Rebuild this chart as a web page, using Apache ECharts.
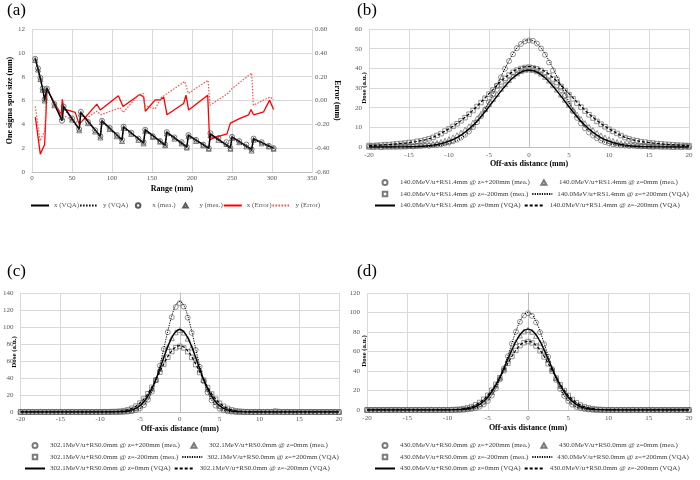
<!DOCTYPE html>
<html><head><meta charset="utf-8">
<script src="https://cdn.jsdelivr.net/npm/echarts@6/dist/echarts.min.js"></script>
<style>html,body{margin:0;padding:0;background:#fff}#c{width:700px;height:480px}</style>
</head><body><div id="c"></div>
<script>
// ---------- Panel (a) data ----------
const rangeVqa = [4,7.5,10.5,13.3,15.8,18.7,37.5,39.5,59,61,85.5,87.5,112.5,114.5,139.5,141.5,166.5,168.5,193.5,195.5,221,223,248,250,274.5,277,302];
const xVqa = [9.55,8.65,7.85,7.0,6.05,7.05,4.3,5.5,3.6,5.0,3.0,4.3,2.7,3.8,2.45,3.55,2.25,3.35,2.1,3.1,2.0,3.2,2.05,2.95,1.9,2.8,2.0];
const yVqa = [9.45,8.55,7.75,6.9,5.95,6.95,4.45,5.4,3.5,4.9,2.9,4.2,2.6,3.7,2.4,3.45,2.2,3.25,2.05,3.0,1.95,3.1,1.95,2.85,1.8,2.7,1.95];
const rangeMea = [4,7.5,10.5,13.3,15.8,18.7,28,37.5,39.5,50,59,61,70,79,85.5,87.5,97,106,112.5,114.5,124,133,139.5,141.5,151,160,166.5,168.5,178,187,193.5,195.5,205,214,221,223,233,243,248,250,259,268,274.5,277,287,296,302];
const xMea = [9.5,8.7,7.9,7.0,6.1,7.0,5.7,4.3,5.5,4.5,3.6,5.05,4.2,3.5,3.0,4.3,3.7,3.1,2.7,3.8,3.3,2.8,2.5,3.55,3.0,2.6,2.3,3.35,2.9,2.5,2.1,3.1,2.7,2.3,2.0,3.25,2.85,2.5,2.0,2.95,2.6,2.3,1.9,2.8,2.5,2.2,2.0];
const yMea = [9.4,8.6,7.8,6.9,6.0,6.9,5.6,4.6,5.4,4.4,3.5,4.9,4.1,3.4,2.9,4.2,3.6,3.0,2.6,3.7,3.2,2.7,2.4,3.45,2.95,2.55,2.25,3.25,2.8,2.4,2.05,3.0,2.6,2.25,1.95,3.1,2.7,2.35,1.95,2.85,2.5,2.15,1.8,2.7,2.4,2.15,1.95];
const rangeErrX = [4.2,10.4,15.8,18.75,36.6,37.9,39.6,54,59,81,85.4,108,113.75,134.6,139.6,141.7,154,160,164.6,168.75,189.6,192.5,195.8,219.6,222,229,243.75,247.9,260,270.8,273.75,277,289.6,297,302];
const errX = [-0.14,-0.45,-0.37,0.09,-0.12,0.01,-0.07,-0.10,-0.20,-0.03,-0.08,0.04,-0.05,0.05,0.03,-0.09,0.005,0.005,0.03,-0.12,-0.025,0.045,-0.08,0.045,-0.33,-0.31,-0.28,-0.19,-0.15,-0.12,-0.076,-0.12,-0.095,0.003,-0.076];
const rangeErrY = [4.2,10,16,18.5,37,59,81,86,110,114,133,139,141,154,162,165,191,195.4,220,222.5,245,250,274.6,276.7,297.5,301.7];
const errY = [-0.05,-0.34,-0.25,0.09,-0.12,-0.19,-0.09,-0.12,-0.06,-0.10,0.045,0.06,-0.04,-0.07,0.03,0.04,0.16,0.06,0.17,-0.04,0.06,0.10,0.23,-0.04,0.03,0.005];

// ---------- Profiles: shared off-axis positions (mm) ----------
const offAxis = [-20,-19.5,-19,-18.5,-18,-17.5,-17,-16.5,-16,-15.5,-15,-14.5,-14,-13.5,-13,-12.5,-12,-11.5,-11,-10.5,
-10,-9.5,-9,-8.5,-8,-7.5,-7,-6.5,-6,-5.5,-5,-4.5,-4,-3.5,-3,-2.5,-2,-1.5,-1,-0.5,0,
0.5,1,1.5,2,2.5,3,3.5,4,4.5,5,5.5,6,6.5,7,7.5,8,8.5,9,9.5,10,
10.5,11,11.5,12,12.5,13,13.5,14,14.5,15,15.5,16,16.5,17,17.5,18,18.5,19,19.5,20];

// ---------- Panel (b) 140.0MeV/u ----------
const bMeaP200 = [0.3,0.2,0.4,0.1,0.3,0.2,0.4,0.3,0.2,0.4, 0.5,0.3,0.6,0.5,0.7,0.6,0.9,1.1,1.4,1.8, 2.3,2.9,3.7,4.8,6.2,7.9,10.1,12.6,15.6,19.0, 22.8,26.9,31.2,35.5,39.8,43.7,47.2,50.3,52.4,53.7,
54.2,
54.0,52.6,50.1,46.9,43.0,38.9,34.6,30.2,26.0,21.9, 18.2,14.8,12.0,9.5,7.4,5.8,4.4,3.3,2.5,1.9, 1.4,1.1,0.8,0.7,0.5,0.6,0.4,0.3,0.5,0.3, 0.2,0.4,0.3,0.2,0.3,0.1,0.3,0.2,0.4,0.2];
const bMea0 = [0.2,0.1,0.2,0.1,0.2,0.3,0.2,0.3,0.4,0.3, 0.5,0.6,0.7,0.9,1.1,1.3,1.7,2.1,2.6,3.2, 4.0,4.9,6.0,7.3,8.8,10.5,12.4,14.6,16.9,19.3, 21.9,24.5,27.0,29.6,31.9,34.1,36.0,37.5,38.6,39.3,
39.5,
39.2,38.5,37.3,35.7,33.8,31.6,29.2,26.7,24.1,21.5, 18.9,16.5,14.2,12.1,10.2,8.6,7.1,5.9,4.8,3.9, 3.1,2.5,2.0,1.6,1.3,1.0,0.8,0.7,0.5,0.4, 0.3,0.4,0.2,0.3,0.2,0.1,0.2,0.1,0.2,0.1];
const bMeaM200 = [0.8,0.7,0.9,1.0,1.2,1.2,1.4,1.6,1.8,2.0, 2.3,2.4,2.9,3.1,3.6,4.2,4.9,5.9,6.8,8.1, 9.2,10.5,11.8,13.3,14.9,16.7,18.5,20.6,22.6,24.8, 26.9,29.0,31.1,33.1,34.9,36.6,38.0,39.1,39.9,40.4,
40.6,
40.2,39.7,38.9,37.8,36.3,34.6,32.8,30.8,28.7,26.6, 24.5,22.3,20.3,18.3,16.4,14.7,13.0,11.6,10.3,9.0, 7.9,6.9,5.8,4.8,4.1,3.5,3.2,2.7,2.5,2.1, 2.0,1.7,1.6,1.4,1.3,1.1,1.0,0.9,0.8,0.7];
const bVqaP200 = [0,0,0,0,0,0,0,0,0,0.01, 0.02,0.04,0.06,0.1,0.16,0.24,0.37,0.56,0.8,1.2, 1.7,2.4,3.3,4.5,5.9,7.8,10.0,12.6,15.7,19.1, 22.9,27.0,31.3,35.7,39.9,43.9,47.5,50.4,52.6,54.0,
54.5,
54.0,52.6,50.4,47.5,43.9,39.9,35.7,31.3,27.0,22.9, 19.1,15.7,12.6,10.0,7.8,5.9,4.5,3.3,2.4,1.7, 1.2,0.8,0.56,0.37,0.24,0.16,0.1,0.06,0.04,0.02, 0.01,0,0,0,0,0,0,0,0,0];
const bVqa0 = [0,0,0,0,0.01,0.01,0.02,0.04,0.05,0.08, 0.12,0.17,0.25,0.35,0.5,0.69,0.95,1.28,1.71,2.26, 2.95,3.79,4.81,6.03,7.47,9.12,11.0,13.1,15.39,17.86, 20.45,23.12,25.8,28.42,30.91,33.19,35.17,36.8,38.01,38.75,
39,
38.75,38.01,36.8,35.17,33.19,30.91,28.42,25.8,23.12,20.45, 17.86,15.39,13.1,11.0,9.12,7.47,6.03,4.81,3.79,2.95, 2.26,1.71,1.28,0.95,0.69,0.5,0.35,0.25,0.17,0.12, 0.08,0.05,0.04,0.02,0.01,0.01,0,0,0,0];
const bVqaM200 = [0.7,0.8,0.9,1.0,1.1,1.2,1.4,1.6,1.8,2.0, 2.3,2.5,2.8,3.2,3.6,4.2,4.9,5.9,6.9,8.1, 9.3,10.5,11.9,13.4,15.1,16.8,18.7,20.7,22.8,25.0, 27.1,29.2,31.4,33.4,35.2,36.9,38.4,39.5,40.3,40.8,
41,
40.8,40.3,39.5,38.4,36.9,35.2,33.4,31.4,29.2,27.1, 25.0,22.8,20.7,18.7,16.8,15.1,13.4,11.9,10.5,9.3, 8.1,6.9,5.9,4.9,4.2,3.6,3.2,2.8,2.5,2.3, 2.0,1.8,1.6,1.4,1.2,1.1,1.0,0.9,0.8,0.7];

// ---------- Panel (c) 302.1MeV/u ----------
const cMeaP200 = [0.2,0.1,0.2,0.2,0.1,0.2,0.1,0.2,0.2,0.1, 0.2,0.1,0.2,0.2,0.1,0.2,0.3,0.2,0.1,0.2, 0.2,0.3,0.2,0.3,0.2,0.2,0.3,0.5,1.0,2.1, 4.2,8.0,14.3,24.0,37.5,54.5,74.0,94.0,111.5,123.5,
128,
124.0,111.0,93.2,73.0,53.3,36.2,23.1,13.7,7.6,3.9, 1.9,0.9,0.4,0.2,0.2,0.1,0.2,0.1,0.2,0.2, 0.1,0.2,0.1,0.2,0.2,0.1,0.2,0.1,0.2,0.2, 0.1,0.2,0.1,0.2,0.1,0.2,0.2,0.1,0.2,0.1];
const cMea0 = [0.1,0.2,0.2,0.1,0.3,0.2,0.1,0.2,0.2,0.1, 0.2,0.3,0.1,0.2,0.2,0.1,0.2,0.2,0.3,0.1, 0.2,0.2,0.1,0.3,0.2,0.4,0.7,1.3,2.4,4.3, 7.4,12.0,18.6,27.4,38.2,50.6,63.8,76.4,86.9,93.8,
96.5,
93.4,86.3,75.8,63.2,50.0,37.6,26.9,18.2,11.7,7.2, 4.1,2.3,1.2,0.6,0.3,0.2,0.2,0.1,0.2,0.3, 0.1,0.2,0.2,0.1,0.2,0.1,0.3,0.2,0.1,0.2, 0.2,0.1,0.2,0.2,0.1,0.2,0.1,0.2,0.3,0.1];
const cMeaM200 = [0.2,0.1,0.2,0.2,0.1,0.3,0.2,0.1,0.2,0.2, 0.1,0.2,0.2,0.3,0.1,0.2,0.2,0.1,0.2,0.2, 0.2,0.2,0.3,0.4,0.6,1.0,1.6,2.7,4.4,6.9, 10.5,15.3,21.5,29.0,37.6,46.8,56.0,64.4,71.2,75.6,
77.2,
75.4,71.0,64.2,55.7,46.5,37.3,28.7,21.2,15.0,10.3, 6.7,4.2,2.6,1.5,0.9,0.5,0.3,0.2,0.1,0.2, 0.2,0.1,0.3,1.0,0.4,0.2,0.1,0.2,0.2,0.1, 0.2,0.1,0.2,0.2,0.1,0.2,0.1,0.2,0.2,0.1];
const cVqaP200 = [0,0,0,0,0,0,0,0,0,0, 0,0,0,0,0,0,0,0,0,0, 0,0,0,0,0,0.05,0.14,0.38,0.88,1.96, 4.1,7.9,14.2,23.8,37.4,54.7,74.7,95.2,113.2,125.6,
130,
125.6,113.2,95.2,74.7,54.7,37.4,23.8,14.2,7.9,4.1, 1.96,0.88,0.38,0.14,0.05,0,0,0,0,0, 0,0,0,0,0,0,0,0,0,0, 0,0,0,0,0,0,0,0,0,0];
const cVqa0 = [0,0,0,0,0,0,0,0,0,0, 0,0,0,0,0,0,0,0,0,0, 0,0,0,0,0.1,0.3,0.6,1.2,2.4,4.3, 7.3,12.0,18.6,27.4,38.3,50.9,64.2,76.9,87.5,94.5,
97,
94.5,87.5,76.9,64.2,50.9,38.3,27.4,18.6,12.0,7.3, 4.3,2.4,1.2,0.6,0.3,0.1,0,0,0,0, 0,0,0,0,0,0,0,0,0,0, 0,0,0,0,0,0,0,0,0,0];
const cVqaM200 = [0,0,0,0,0,0,0,0,0,0, 0,0,0,0,0,0,0,0,0,0, 0,0.1,0.1,0.2,0.5,0.9,1.5,2.7,4.4,6.9, 10.6,15.4,21.7,29.3,38.0,47.3,56.6,65.2,72.0,76.5,
78,
76.5,72.0,65.2,56.6,47.3,38.0,29.3,21.7,15.4,10.6, 6.9,4.4,2.7,1.5,0.9,0.5,0.2,0.1,0.1,0, 0,0,0,0,0,0,0,0,0,0, 0,0,0,0,0,0,0,0,0,0];

// ---------- Panel (d) 430.0MeV/u ----------
const dMeaP200 = [0.2,0.1,0.2,0.1,0.2,0.2,0.1,0.3,0.2,0.1, 0.2,0.2,0.1,0.2,0.1,0.2,0.3,0.1,0.2,0.2, 0.1,0.2,0.2,0.2,0.3,0.6,1.1,1.9,3.4,5.8, 9.4,14.8,22.0,31.4,42.6,55.1,68.1,80.3,90.4,96.9,
99.3,
96.5,89.8,79.7,67.5,54.5,42.0,30.8,21.6,14.4,9.2, 5.6,3.2,1.8,1.0,0.5,0.3,0.2,0.2,0.1,0.2, 0.2,0.1,0.2,0.1,0.2,0.3,0.1,0.2,0.1,0.2, 0.2,0.1,0.2,0.2,0.1,0.2,0.1,0.2,0.2,0.1];
const dMea0 = [0.1,0.2,0.2,0.1,0.2,0.1,0.2,0.2,0.3,0.1, 0.2,0.1,0.2,0.2,0.1,0.2,0.2,0.1,0.3,0.2, 0.2,0.2,0.3,0.4,0.7,1.3,2.2,3.6,5.8,8.8, 13.0,18.5,25.3,33.3,42.3,51.8,61.2,69.6,76.4,80.6,
82.2,
80.3,76.0,69.1,60.8,51.4,41.9,32.9,24.9,18.1,12.8, 8.6,5.6,3.6,2.2,1.3,0.7,0.4,0.3,0.2,0.2, 0.1,0.2,0.2,0.1,0.2,0.1,0.2,0.3,0.1,0.2, 0.2,0.1,0.2,0.1,0.2,0.2,0.1,0.2,0.1,0.2];
const dMeaM200 = [0.2,0.2,0.1,0.2,0.1,0.2,0.3,0.2,0.1,0.2, 0.2,0.1,0.2,0.2,0.1,0.2,0.1,0.2,0.2,0.2, 0.2,0.3,0.5,0.8,1.4,2.3,3.5,5.3,7.7,11.0, 15.1,20.3,26.3,33.1,40.4,47.8,54.9,61.1,66.0,69.0,
70.2,
68.8,65.6,60.7,54.5,47.4,40.0,32.7,25.9,19.9,14.9, 10.8,7.5,5.1,3.4,2.2,1.4,0.8,0.5,0.3,0.2, 0.2,0.1,0.2,0.2,0.1,0.2,0.2,0.1,0.2,0.1, 0.2,0.2,0.1,0.2,0.1,0.2,0.2,0.1,0.2,0.2];
const dVqaP200 = [0,0,0,0,0,0,0,0,0,0, 0,0,0,0,0,0,0,0,0,0, 0,0,0,0.1,0.2,0.5,1.0,1.8,3.3,5.7, 9.4,14.8,22.0,31.4,42.7,55.4,68.5,80.8,91.0,97.7,
100,
97.7,91.0,80.8,68.5,55.4,42.7,31.4,22.0,14.8,9.4, 5.7,3.3,1.8,1.0,0.5,0.2,0.1,0,0,0, 0,0,0,0,0,0,0,0,0,0, 0,0,0,0,0,0,0,0,0,0];
const dVqa0 = [0,0,0,0,0,0,0,0,0,0, 0,0,0,0,0,0,0,0,0,0, 0,0.1,0.2,0.4,0.7,1.3,2.2,3.6,5.8,8.9, 13.1,18.6,25.4,33.5,42.7,52.3,61.7,70.3,77.1,81.5,
83,
81.5,77.1,70.3,61.7,52.3,42.7,33.5,25.4,18.6,13.1, 8.9,5.8,3.6,2.2,1.3,0.7,0.4,0.2,0.1,0, 0,0,0,0,0,0,0,0,0,0, 0,0,0,0,0,0,0,0,0,0];
const dVqaM200 = [0,0,0,0,0,0,0,0,0,0, 0,0,0,0,0,0,0,0,0,0.1, 0.1,0.3,0.5,0.8,1.4,2.2,3.5,5.2,7.7,10.9, 15.1,20.3,26.3,33.2,40.5,48.0,55.1,61.4,66.3,69.4,
70.5,
69.4,66.3,61.4,55.1,48.0,40.5,33.2,26.3,20.3,15.1, 10.9,7.7,5.2,3.5,2.2,1.4,0.8,0.5,0.3,0.1, 0.1,0,0,0,0,0,0,0,0,0, 0,0,0,0,0,0,0,0,0,0];

// ---------- label texts ----------
const legendA = ['x (VQA)','y (VQA)','x (mea.)','y (mea.)','x (Error)','y (Error)'];
const beamB = '140.0MeV/u+RS1.4mm', beamC = '302.1MeV/u+RS0.0mm', beamD = '430.0MeV/u+RS0.0mm';

// ---------- build ----------
const FONT = 'Liberation Serif';
const GRID = '#d9d9d9', AXL = '#bfbfbf', LBL = '#595959';
const pairs = (xs, ys) => xs.map((x, i) => [x, ys[i]]);
const hollow = (c) => ({color: 'rgba(255,255,255,0)', borderColor: c, borderWidth: 0.8});
const noSym = {color: 'rgba(0,0,0,0)', borderColor: 'rgba(0,0,0,0)', borderWidth: 0};
// legend marker icons: shape centred in a 4:1 box (zero-length end points only widen the box)
const PAD = 'M-15,0L-15,0M25,10L25,10';
const ICON = {
  circle: 'path://' + PAD + 'M5,0A5,5,0,1,1,5,10A5,5,0,1,1,5,0Z',
  triangle: 'path://' + PAD + 'M5,0.7L10,9.3L0,9.3Z',
  rect: 'path://' + PAD + 'M0.5,0.5L9.5,0.5L9.5,9.5L0.5,9.5Z'
};
const lineItem = (name) => ({name: name, itemStyle: noSym});
const markItem = (name, shape) => ({name: name, icon: ICON[shape]});

function valAxis(o) {
  return Object.assign({
    type: 'value',
    axisTick: {show: false},
    axisLine: {show: true, lineStyle: {color: AXL, width: 1}},
    axisLabel: {fontFamily: FONT, fontSize: 7, color: LBL},
    splitLine: {show: true, lineStyle: {color: GRID, width: 1}},
    nameTextStyle: {fontFamily: FONT, fontSize: 8, fontWeight: 'bold', color: '#000'},
    nameLocation: 'middle'
  }, o);
}

const grids = [
  {left: 32, top: 29, width: 280, height: 143},
  {left: 369, top: 29, width: 320, height: 118},
  {left: 17, top: 293, width: 322, height: 119},
  {left: 367, top: 293, width: 322, height: 117}
];

const xAxes = [
  valAxis({gridIndex: 0, min: 0, max: 350, interval: 50, name: 'Range (mm)', nameGap: 13,
    axisLine: {show: true, onZero: false, lineStyle: {color: AXL}}, axisLabel: {fontFamily: FONT, fontSize: 7, color: LBL, margin: 3}}),
  valAxis({gridIndex: 1, min: -20, max: 20, interval: 5, name: 'Off-axis distance (mm)', nameGap: 13,
    axisLabel: {fontFamily: FONT, fontSize: 7, color: LBL, margin: 5}}),
  valAxis({gridIndex: 2, min: -20, max: 20, interval: 5, name: 'Off-axis distance (mm)', nameGap: 13,
    axisLabel: {fontFamily: FONT, fontSize: 7, color: LBL, margin: 4}}),
  valAxis({gridIndex: 3, min: -20, max: 20, interval: 5, name: 'Off-axis distance (mm)', nameGap: 14,
    axisLabel: {fontFamily: FONT, fontSize: 7, color: LBL, margin: 5}})
];
const yAxes = [
  valAxis({gridIndex: 0, min: 0, max: 12, interval: 2, name: 'One sigma spot size (mm)', nameGap: 15,
    axisLine: {show: false, onZero: false}, axisLabel: {fontFamily: FONT, fontSize: 7, color: LBL, margin: 7}}),
  valAxis({gridIndex: 0, position: 'right', min: -0.6, max: 0.6, interval: 0.2, name: 'Error (mm)', nameGap: 21, nameRotate: -90,
    axisLine: {show: false, onZero: false}, splitLine: {show: false},
    axisLabel: {fontFamily: FONT, fontSize: 7, color: LBL, margin: 3, formatter: v => v.toFixed(2)}}),
  valAxis({gridIndex: 1, min: 0, max: 60, interval: 10, axisLabel: {fontFamily: FONT, fontSize: 7, color: LBL, margin: 7}}),
  valAxis({gridIndex: 2, min: 0, max: 140, interval: 20, axisLabel: {fontFamily: FONT, fontSize: 7, color: LBL, margin: 7}}),
  valAxis({gridIndex: 3, min: 0, max: 120, interval: 20, axisLabel: {fontFamily: FONT, fontSize: 7, color: LBL, margin: 7}})
];

const series = [
  {name: legendA[0], type: 'line', xAxisIndex: 0, yAxisIndex: 0, data: pairs(rangeVqa, xVqa), symbol: 'none', lineStyle: {color: '#000', width: 1.5}, itemStyle: {color: '#000'}, z: 3},
  {name: legendA[1], type: 'line', xAxisIndex: 0, yAxisIndex: 0, data: pairs(rangeVqa, yVqa), symbol: 'none', lineStyle: {color: '#000', width: 1, type: [1.5, 1.5]}, itemStyle: {color: '#000'}, z: 3},
  {name: legendA[2], type: 'scatter', xAxisIndex: 0, yAxisIndex: 0, data: pairs(rangeMea, xMea), symbol: 'circle', symbolSize: 5, itemStyle: hollow('#333'), z: 4},
  {name: legendA[3], type: 'scatter', xAxisIndex: 0, yAxisIndex: 0, data: pairs(rangeMea, yMea), symbol: 'triangle', symbolSize: 5, itemStyle: hollow('#333'), z: 4},
  {name: legendA[4], type: 'line', xAxisIndex: 0, yAxisIndex: 1, data: pairs(rangeErrX, errX), symbol: 'none', lineStyle: {color: '#ff0000', width: 1.3}, itemStyle: {color: '#ff0000'}, z: 2},
  {name: legendA[5], type: 'line', xAxisIndex: 0, yAxisIndex: 1, data: pairs(rangeErrY, errY), symbol: 'none', lineStyle: {color: '#ff4d4d', width: 1.2, type: [1.5, 1.5]}, itemStyle: {color: '#ff4d4d'}, z: 2}
];

const legends = [{
  left: 30, top: 202, padding: 0, itemWidth: 18, itemHeight: 5, itemGap: 0, selectedMode: false,
  textStyle: {fontFamily: FONT, fontSize: 7, color: LBL, width: 27, overflow: 'none'},
  data: [lineItem(legendA[0]), lineItem(legendA[1]), markItem(legendA[2], 'circle'), markItem(legendA[3], 'triangle'), lineItem(legendA[4]), lineItem(legendA[5])]
}];

function profilePanel(beam, xi, yi, d, legLeft, legTop) {
  const n = {
    p: beam + ' @ z=+200mm (mea.)', z: beam + ' @ z=0mm (mea.)', m: beam + ' @ z=-200mm (mea.)',
    pv: beam + ' @ z=+200mm (VQA)', zv: beam + ' @ z=0mm (VQA)', mv: beam + ' @ z=-200mm (VQA)'
  };
  const mk = '#595959';
  series.push(
    {name: n.p, type: 'scatter', xAxisIndex: xi, yAxisIndex: yi, data: pairs(offAxis, d[0]), symbol: 'circle', symbolSize: 5, itemStyle: hollow(mk)},
    {name: n.z, type: 'scatter', xAxisIndex: xi, yAxisIndex: yi, data: pairs(offAxis, d[1]), symbol: 'triangle', symbolSize: 5, itemStyle: hollow(mk)},
    {name: n.m, type: 'scatter', xAxisIndex: xi, yAxisIndex: yi, data: pairs(offAxis, d[2]), symbol: 'rect', symbolSize: 4.5, itemStyle: hollow(mk)},
    {name: n.pv, type: 'line', xAxisIndex: xi, yAxisIndex: yi, data: pairs(offAxis, d[3]), symbol: 'none', smooth: 0.3, lineStyle: {color: '#000', width: 1, type: [1.2, 1.2]}, itemStyle: {color: '#000'}, z: 3},
    {name: n.zv, type: 'line', xAxisIndex: xi, yAxisIndex: yi, data: pairs(offAxis, d[4]), symbol: 'none', smooth: 0.3, lineStyle: {color: '#000', width: 1.4}, itemStyle: {color: '#000'}, z: 3},
    {name: n.mv, type: 'line', xAxisIndex: xi, yAxisIndex: yi, data: pairs(offAxis, d[5]), symbol: 'none', smooth: 0.3, lineStyle: {color: '#000', width: 1.2, type: [3, 2]}, itemStyle: {color: '#000'}, z: 3}
  );
  const rows = [[markItem(n.p, 'circle'), markItem(n.z, 'triangle')],
                [markItem(n.m, 'rect'), lineItem(n.pv)],
                [lineItem(n.zv), lineItem(n.mv)]];
  rows.forEach((r, k) => legends.push({
    orient: 'horizontal', left: legLeft, top: legTop + k * 11.5, padding: 0,
    itemWidth: 20, itemHeight: 5, itemGap: 3, selectedMode: false,
    textStyle: {fontFamily: FONT, fontSize: 7, color: '#404040', width: 123, overflow: 'none'},
    data: r
  }));
}
profilePanel(beamB, 1, 2, [bMeaP200, bMea0, bMeaM200, bVqaP200, bVqa0, bVqaM200], 374, 179);
profilePanel(beamC, 2, 3, [cMeaP200, cMea0, cMeaM200, cVqaP200, cVqa0, cVqaM200], 24, 442);
profilePanel(beamD, 3, 4, [dMeaP200, dMea0, dMeaM200, dVqaP200, dVqa0, dVqaM200], 374, 442);

const panelTxt = (t, x, y) => ({type: 'text', x: x, y: y, style: {text: t, font: '17px "Liberation Serif"', fill: '#000'}});
const doseTxt = (x, y) => ({type: 'text', x: x, y: y, rotation: Math.PI / 2,
  style: {text: 'Dose (a.u.)', font: 'bold 7px "Liberation Serif"', fill: '#000', align: 'center', verticalAlign: 'middle'}});

const chart = echarts.init(document.getElementById('c'), null, {renderer: 'canvas'});
chart.setOption({
  animation: false,
  backgroundColor: '#fff',
  grid: grids,
  xAxis: xAxes,
  yAxis: yAxes,
  legend: legends,
  series: series,
  graphic: [
    panelTxt('(a)', 7, 2), panelTxt('(b)', 357, 2), panelTxt('(c)', 7, 263), panelTxt('(d)', 357, 263),
    doseTxt(364, 88), doseTxt(14, 352), doseTxt(364, 351)
  ]
});
</script></body></html>
